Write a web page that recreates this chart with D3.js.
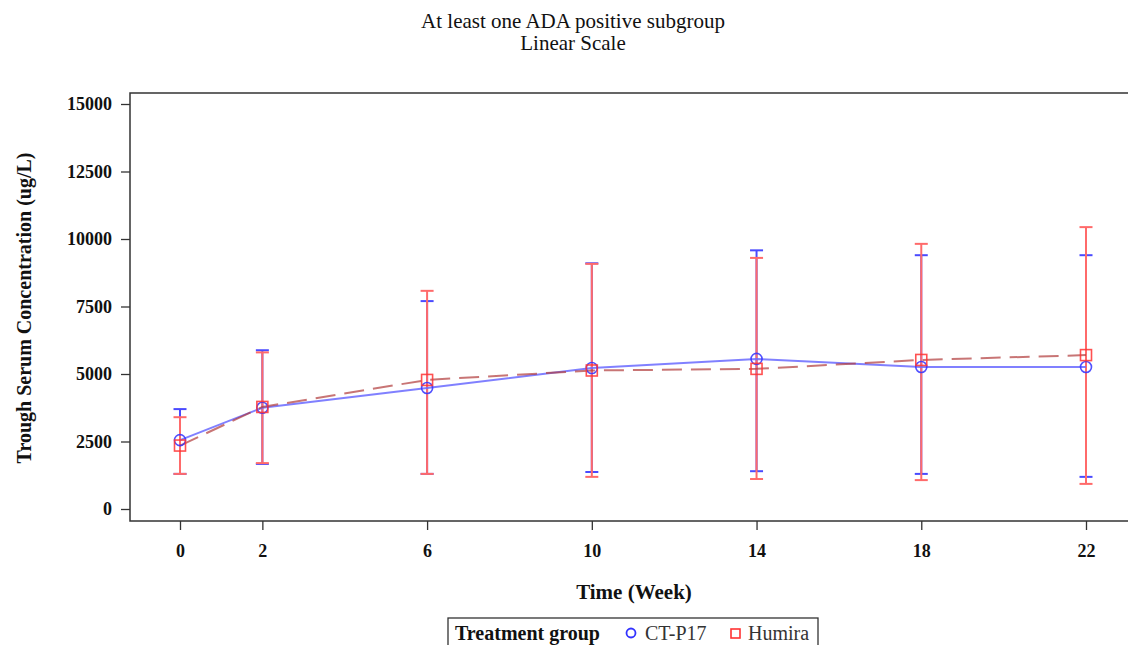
<!DOCTYPE html>
<html>
<head>
<meta charset="utf-8">
<script src="https://cdn.jsdelivr.net/npm/d3@7"></script>
<style>
  body { margin: 0; background: #fff; }
  svg { display: block; font-family: "Liberation Serif", "Times New Roman", serif; }
</style>
</head>
<body>
<svg id="chart" width="1128" height="645"></svg>
<script>
// Visit weeks
const weeks = [0, 2, 6, 10, 14, 18, 22];

// CT-P17 mean and error bar ends (ug/L)
const ctMean  = [2550, 3750, 4480, 5220, 5560, 5260, 5260];
const ctLower = [1300, 1670, 1300, 1370, 1400, 1300, 1190];
const ctUpper = [3700, 5880, 7700, 9100, 9580, 9400, 9400];

// Humira mean and error bar ends (ug/L)
const humMean  = [2350, 3780, 4780, 5130, 5190, 5520, 5700];
const humLower = [1300, 1700, 1300, 1190, 1110, 1070, 930];
const humUpper = [3400, 5800, 8080, 9080, 9300, 9820, 10440];

const yTicks = [0, 2500, 5000, 7500, 10000, 12500, 15000];

const svg = d3.select("#chart");

const frame = { left: 130, top: 93, right: 1140, bottom: 521 };

const x = d3.scaleLinear().domain([0, 22]).range([180, 1086]);
const y = d3.scaleLinear().domain([0, 15000]).range([509, 104]);

// Titles
svg.append("text")
    .attr("x", 573).attr("y", 28)
    .attr("text-anchor", "middle")
    .attr("font-size", 21)
    .attr("fill", "#111")
    .text("At least one ADA positive subgroup");
svg.append("text")
    .attr("x", 573).attr("y", 50)
    .attr("text-anchor", "middle")
    .attr("font-size", 21)
    .attr("fill", "#111")
    .text("Linear Scale");

// Frame
svg.append("rect")
    .attr("x", frame.left).attr("y", frame.top)
    .attr("width", frame.right - frame.left)
    .attr("height", frame.bottom - frame.top)
    .attr("fill", "none")
    .attr("stroke", "#333")
    .attr("stroke-width", 1.5);

// Y axis
const yAxis = svg.append("g")
    .attr("transform", `translate(${frame.left},0)`)
    .call(d3.axisLeft(y).tickValues(yTicks).tickSize(9).tickPadding(9).tickFormat(d3.format("d")));
yAxis.select(".domain").remove();
yAxis.selectAll("line").attr("stroke", "#333").attr("stroke-width", 1.3);
yAxis.selectAll("text")
    .attr("font-family", "Liberation Serif, serif")
    .attr("font-size", 18)
    .attr("font-weight", "bold")
    .attr("fill", "#111");

// X axis
const xAxis = svg.append("g")
    .attr("transform", `translate(0,${frame.bottom})`)
    .call(d3.axisBottom(x).tickValues(weeks).tickSize(9).tickPadding(14));
xAxis.select(".domain").remove();
xAxis.selectAll("line").attr("stroke", "#333").attr("stroke-width", 1.3);
xAxis.selectAll("text")
    .attr("font-family", "Liberation Serif, serif")
    .attr("font-size", 18)
    .attr("font-weight", "bold")
    .attr("fill", "#111");

// Axis labels
svg.append("text")
    .attr("transform", "translate(31,308) rotate(-90)")
    .attr("text-anchor", "middle")
    .attr("font-size", 20)
    .attr("font-weight", "bold")
    .attr("fill", "#111")
    .text("Trough Serum Concentration (ug/L)");
svg.append("text")
    .attr("x", 634).attr("y", 599)
    .attr("text-anchor", "middle")
    .attr("font-size", 21)
    .attr("font-weight", "bold")
    .attr("fill", "#111")
    .text("Time (Week)");

const ct = weeks.map((w, i) => ({ w, m: ctMean[i], lo: ctLower[i], hi: ctUpper[i] }));
const hum = weeks.map((w, i) => ({ w, m: humMean[i], lo: humLower[i], hi: humUpper[i] }));

const capW = 6.5;

// Error bars: blue first, red drawn over it
function errorBars(data, color) {
    const g = svg.append("g").attr("stroke", color).attr("stroke-width", 2);
    g.selectAll("line.v").data(data).join("line")
        .attr("x1", d => x(d.w)).attr("x2", d => x(d.w))
        .attr("y1", d => y(d.lo)).attr("y2", d => y(d.hi));
    g.selectAll("line.lo").data(data).join("line")
        .attr("x1", d => x(d.w) - capW).attr("x2", d => x(d.w) + capW)
        .attr("y1", d => y(d.lo)).attr("y2", d => y(d.lo));
    g.selectAll("line.hi").data(data).join("line")
        .attr("x1", d => x(d.w) - capW).attr("x2", d => x(d.w) + capW)
        .attr("y1", d => y(d.hi)).attr("y2", d => y(d.hi));
}
errorBars(ct, "#4a4aff");
errorBars(hum, "#ff6a6a");

// Mean lines
const line = d3.line().x(d => x(d.w)).y(d => y(d.m));
svg.append("path")
    .datum(ct)
    .attr("d", line)
    .attr("fill", "none")
    .attr("stroke", "#6a6aff")
    .attr("stroke-opacity", 0.85)
    .attr("stroke-width", 2);
svg.append("path")
    .datum(hum)
    .attr("d", line)
    .attr("fill", "none")
    .attr("stroke", "#b03a3a")
    .attr("stroke-opacity", 0.7)
    .attr("stroke-width", 2)
    .attr("stroke-dasharray", "20,9");

// Markers
svg.append("g").selectAll("circle").data(ct).join("circle")
    .attr("cx", d => x(d.w)).attr("cy", d => y(d.m))
    .attr("r", 5.5)
    .attr("fill", "none")
    .attr("stroke", "#3333ff")
    .attr("stroke-opacity", 0.85)
    .attr("stroke-width", 1.6);
svg.append("g").selectAll("rect").data(hum).join("rect")
    .attr("x", d => x(d.w) - 5.5).attr("y", d => y(d.m) - 5.5)
    .attr("width", 11).attr("height", 11)
    .attr("fill", "none")
    .attr("stroke", "#ff3333")
    .attr("stroke-opacity", 0.85)
    .attr("stroke-width", 1.6);

// Legend
const legend = svg.append("g");
legend.append("rect")
    .attr("x", 448).attr("y", 618)
    .attr("width", 370).attr("height", 40)
    .attr("fill", "#fff")
    .attr("stroke", "#333")
    .attr("stroke-width", 1.3);
legend.append("text")
    .attr("x", 455).attr("y", 640)
    .attr("font-size", 20).attr("font-weight", "bold").attr("fill", "#111")
    .text("Treatment group");
legend.append("circle")
    .attr("cx", 631).attr("cy", 633).attr("r", 4.5)
    .attr("fill", "none").attr("stroke", "#3333ff").attr("stroke-width", 1.8);
legend.append("text")
    .attr("x", 645).attr("y", 640)
    .attr("font-size", 20).attr("fill", "#333")
    .text("CT-P17");
legend.append("rect")
    .attr("x", 731).attr("y", 629).attr("width", 9).attr("height", 9)
    .attr("fill", "none").attr("stroke", "#ff3333").attr("stroke-width", 1.6);
legend.append("text")
    .attr("x", 748).attr("y", 640)
    .attr("font-size", 20).attr("fill", "#333")
    .text("Humira");
</script>
</body>
</html>
